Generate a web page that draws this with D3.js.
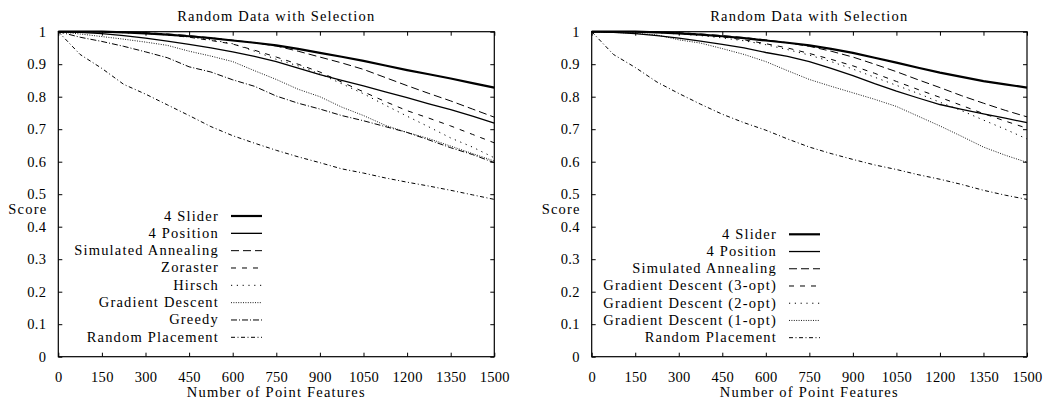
<!DOCTYPE html>
<html>
<head>
<meta charset="utf-8">
<script src="https://cdn.jsdelivr.net/npm/d3@7"></script>
<style>
body { margin: 0; background: #fff; }
.frame { fill: none; stroke: #000; stroke-width: 1.2; }
.curve { fill: none; stroke: #000; }
</style>
</head>
<body>
<svg id="chart" width="1044" height="404"></svg>
<script>
var title = "Random Data with Selection";
var xLabel = "Number of Point Features";
var yLabel = "Score";
var xTicks = [0, 150, 300, 450, 600, 750, 900, 1050, 1200, 1350, 1500];
var yTicks = [0, 0.1, 0.2, 0.3, 0.4, 0.5, 0.6, 0.7, 0.8, 0.9, 1];

// x positions shared by every series
var features = [0, 75, 150, 225, 300, 375, 450, 525, 600, 675, 750, 825, 900, 975, 1050, 1125, 1200, 1275, 1350, 1425, 1500];

// left chart
var leftNames = ["4 Slider", "4 Position", "Simulated Annealing", "Zoraster", "Hirsch", "Gradient Descent", "Greedy", "Random Placement"];
var leftSlider = [1, 1, 1, 0.998, 0.995, 0.991, 0.986, 0.98, 0.973, 0.966, 0.958, 0.947, 0.935, 0.923, 0.91, 0.896, 0.882, 0.869, 0.856, 0.842, 0.828];
var leftPosition = [1, 0.998, 0.994, 0.988, 0.98, 0.971, 0.961, 0.95, 0.938, 0.924, 0.908, 0.888, 0.868, 0.85, 0.833, 0.815, 0.797, 0.778, 0.76, 0.74, 0.719];
var leftAnnealing = [1, 1, 1, 0.999, 0.997, 0.993, 0.988, 0.981, 0.974, 0.966, 0.956, 0.94, 0.922, 0.904, 0.884, 0.859, 0.834, 0.81, 0.787, 0.762, 0.737];
var leftZoraster = [1, 1, 1, 0.998, 0.995, 0.99, 0.983, 0.973, 0.962, 0.943, 0.922, 0.9, 0.876, 0.845, 0.815, 0.785, 0.757, 0.734, 0.71, 0.684, 0.658];
var leftHirsch = [1, 1, 0.999, 0.997, 0.994, 0.99, 0.984, 0.975, 0.963, 0.94, 0.915, 0.895, 0.87, 0.84, 0.809, 0.774, 0.74, 0.707, 0.673, 0.645, 0.612];
var leftGradient = [1, 0.993, 0.985, 0.977, 0.968, 0.958, 0.94, 0.925, 0.908, 0.88, 0.853, 0.823, 0.8, 0.768, 0.742, 0.712, 0.69, 0.671, 0.648, 0.625, 0.602];
var leftGreedy = [1, 0.983, 0.97, 0.955, 0.938, 0.92, 0.892, 0.876, 0.852, 0.832, 0.802, 0.78, 0.762, 0.742, 0.726, 0.708, 0.69, 0.667, 0.643, 0.622, 0.597];
var leftRandom = [1, 0.93, 0.887, 0.838, 0.808, 0.775, 0.742, 0.708, 0.68, 0.657, 0.635, 0.615, 0.597, 0.578, 0.565, 0.55, 0.537, 0.525, 0.512, 0.498, 0.484];

// right chart
var rightNames = ["4 Slider", "4 Position", "Simulated Annealing", "Gradient Descent (3-opt)", "Gradient Descent (2-opt)", "Gradient Descent (1-opt)", "Random Placement"];
var rightSlider = [1, 1, 1, 0.998, 0.995, 0.991, 0.986, 0.98, 0.973, 0.966, 0.958, 0.947, 0.935, 0.92, 0.905, 0.889, 0.874, 0.861, 0.848, 0.838, 0.828];
var rightPosition = [1, 0.998, 0.994, 0.988, 0.98, 0.971, 0.961, 0.95, 0.936, 0.924, 0.908, 0.887, 0.865, 0.84, 0.817, 0.796, 0.776, 0.761, 0.747, 0.734, 0.72];
var rightAnnealing = [1, 1, 1, 0.999, 0.997, 0.993, 0.988, 0.982, 0.975, 0.966, 0.955, 0.94, 0.922, 0.9, 0.877, 0.852, 0.828, 0.803, 0.78, 0.758, 0.738];
var rightOpt3 = [1, 1, 1, 0.998, 0.995, 0.99, 0.984, 0.975, 0.963, 0.95, 0.933, 0.915, 0.895, 0.872, 0.847, 0.822, 0.798, 0.773, 0.748, 0.725, 0.703];
var rightOpt2 = [1, 1, 0.999, 0.997, 0.993, 0.988, 0.981, 0.972, 0.96, 0.945, 0.928, 0.908, 0.885, 0.86, 0.835, 0.81, 0.783, 0.757, 0.728, 0.7, 0.67];
var rightOpt1 = [1, 0.998, 0.995, 0.99, 0.975, 0.965, 0.948, 0.93, 0.908, 0.88, 0.853, 0.832, 0.812, 0.792, 0.77, 0.74, 0.71, 0.678, 0.645, 0.62, 0.598];
var rightRandom = [1, 0.93, 0.89, 0.845, 0.81, 0.777, 0.746, 0.72, 0.697, 0.67, 0.645, 0.625, 0.607, 0.59, 0.576, 0.56, 0.546, 0.53, 0.512, 0.497, 0.484];

// line styles (gnuplot-ish)
var styles = {
	slider:   {w: 2.2, dash: null},
	position: {w: 1.3, dash: null},
	anneal:   {w: 1, dash: "8,4"},
	dash:     {w: 1, dash: "5,6"},
	sparse:   {w: 1, dash: "1.2,4.6"},
	dense:    {w: 0.9, dash: "1,1.4"},
	dashdot:  {w: 1, dash: "6,2,1,2"},
	dashdot2: {w: 1, dash: "4,2.5,1,2.5"}
};

var font = "'Liberation Serif', 'Times New Roman', serif";
var svg = d3.select("#chart");
svg.append("rect").attr("width", 1044).attr("height", 404).attr("fill", "#fff");

var plotTop = 31.7, plotBottom = 356.7;

function label(g, x, y, anchor, str) {
	return g.append("text").attr("x", x).attr("y", y)
		.attr("text-anchor", anchor)
		.style("font-family", font)
		.style("font-size", "14.5px")
		.style("letter-spacing", "1.2px")
		.style("fill", "#000")
		.text(str);
}

function drawPanel(left, right, series, legend) {
	var x = d3.scaleLinear().domain([0, 1500]).range([left, right]);
	var y = d3.scaleLinear().domain([0, 1]).range([plotBottom, plotTop]);

	var g = svg.append("g");

	// inward ticks on all sides
	g.append("g").attr("transform", "translate(0," + plotBottom + ")")
		.call(d3.axisBottom(x).tickValues(xTicks).tickSizeInner(-4).tickSizeOuter(0).tickPadding(15).tickFormat(d3.format("d")))
		.call(function(a) { a.select(".domain").remove(); });
	g.append("g").attr("transform", "translate(0," + plotTop + ")")
		.call(d3.axisTop(x).tickValues(xTicks).tickSizeInner(-4).tickSizeOuter(0).tickFormat(""))
		.call(function(a) { a.select(".domain").remove(); });
	g.append("g").attr("transform", "translate(" + left + ",0)")
		.call(d3.axisLeft(y).tickValues(yTicks).tickSizeInner(-4).tickSizeOuter(0).tickPadding(12).tickFormat(function(d) { return d === 0 || d === 1 ? d : d3.format(".1f")(d); }))
		.call(function(a) { a.select(".domain").remove(); });
	g.append("g").attr("transform", "translate(" + right + ",0)")
		.call(d3.axisRight(y).tickValues(yTicks).tickSizeInner(-4).tickSizeOuter(0).tickFormat(""))
		.call(function(a) { a.select(".domain").remove(); });
	g.selectAll(".tick line").attr("stroke", "#000");
	g.selectAll(".tick text")
		.style("font-family", font)
		.style("font-size", "14.5px")
		.style("letter-spacing", "0.3px")
		.style("fill", "#000");

	var line = d3.line()
		.x(function(d, i) { return x(features[i]); })
		.y(function(d) { return y(d); });

	// draw in reverse so the thick lines end on top
	series.slice().reverse().forEach(function(s) {
		g.append("path")
			.attr("class", "curve")
			.attr("d", line(s.values))
			.attr("stroke-width", s.style.w)
			.attr("stroke-dasharray", s.style.dash);
	});

	g.append("rect").attr("class", "frame")
		.attr("x", left).attr("y", plotTop)
		.attr("width", right - left).attr("height", plotBottom - plotTop);

	var mid = (left + right) / 2;
	label(g, mid, 21, "middle", title);
	label(g, mid, 397, "middle", xLabel);
	label(g, left - 50, 214, "start", yLabel);

	// legend
	series.forEach(function(s, i) {
		var cy = legend.top + i * legend.step;
		label(g, legend.textEnd, cy + 4.5, "end", s.name);
		g.append("line")
			.attr("x1", legend.textEnd + 12).attr("x2", legend.textEnd + 43)
			.attr("y1", cy).attr("y2", cy)
			.attr("stroke", "#000")
			.attr("stroke-width", s.style.w)
			.attr("stroke-dasharray", s.style.dash);
	});
}

var leftValues = [leftSlider, leftPosition, leftAnnealing, leftZoraster, leftHirsch, leftGradient, leftGreedy, leftRandom];
var leftStyles = [styles.slider, styles.position, styles.anneal, styles.dash, styles.sparse, styles.dense, styles.dashdot, styles.dashdot2];
drawPanel(58.3, 494.3, leftNames.map(function(n, i) { return {name: n, values: leftValues[i], style: leftStyles[i]}; }),
	{top: 216, step: 17.33, textEnd: 219});

var rightValues = [rightSlider, rightPosition, rightAnnealing, rightOpt3, rightOpt2, rightOpt1, rightRandom];
var rightStyles = [styles.slider, styles.position, styles.anneal, styles.dash, styles.sparse, styles.dense, styles.dashdot2];
drawPanel(591.7, 1027, rightNames.map(function(n, i) { return {name: n, values: rightValues[i], style: rightStyles[i]}; }),
	{top: 234.3, step: 17.23, textEnd: 777});
</script>
</body>
</html>
